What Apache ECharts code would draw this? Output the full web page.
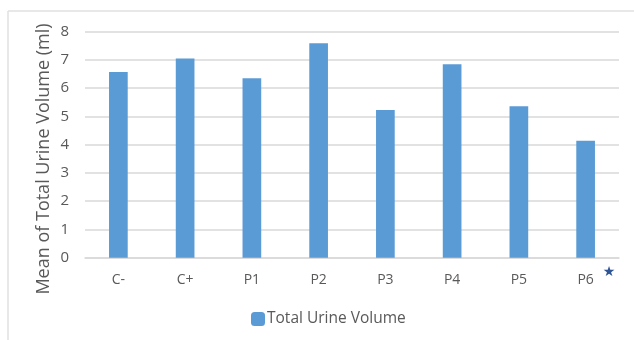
<!DOCTYPE html>
<html><head><meta charset="utf-8">
<script src="https://cdn.jsdelivr.net/npm/echarts@6/dist/echarts.min.js"></script>
<style>html,body{margin:0;padding:0;background:#fff}#c{width:634px;height:340px}</style>
</head><body><div id="c"></div>
<script>
const categories = ['C-','C+','P1','P2','P3','P4','P5','P6'];
const urineVolume = [6.57, 7.05, 6.35, 7.59, 5.23, 6.85, 5.36, 4.14];
const yTicks = [0,1,2,3,4,5,6,7,8];
const seriesName = 'Total Urine Volume';
const yAxisTitle = 'Mean of Total Urine Volume (ml)';
const txt = '#595959';
const font = '"Open Sans", sans-serif';
const chart = echarts.init(document.getElementById('c'));
chart.setOption({
  animation: false,
  backgroundColor: '#fff',
  grid: {left: 85, right: 15, top: 31.7, bottom: 82.3, containLabel: false},
  legend: {
    data: [seriesName], left: 251, top: 311, padding: 0, itemWidth: 14, itemHeight: 14, itemGap: 4,
    textStyle: {color: txt, fontSize: 15.5, fontFamily: font, padding: [0,0,0,-3]}
  },
  xAxis: {
    type: 'category', data: categories,
    axisLine: {lineStyle: {color: '#d9d9d9', width: 1.5}}, axisTick: {show: false},
    axisLabel: {color: txt, fontSize: 14, fontFamily: font, margin: 15}
  },
  yAxis: {
    type: 'value', min: 0, max: 8, interval: 1,
    axisLine: {show: false}, axisTick: {show: false},
    axisLabel: {color: txt, fontSize: 15, fontFamily: font, margin: 16,
      formatter: v => yTicks.includes(v) ? String(v) : ''},
    splitLine: {lineStyle: {color: '#d9d9d9', width: 1.5}}
  },
  series: [{
    name: seriesName, type: 'bar', data: urineVolume, barWidth: '28%',
    itemStyle: {color: '#5b9bd5'}
  }],
  graphic: [
    {type: 'line', shape: {x1: 8, y1: 11, x2: 634, y2: 11}, style: {stroke: '#e0e0e0', lineWidth: 1.5}, silent: true},
    {type: 'line', shape: {x1: 8, y1: 11, x2: 8, y2: 340}, style: {stroke: '#e0e0e0', lineWidth: 1.5}, silent: true},
    {type: 'text', x: 43.5, y: 159, rotation: Math.PI / 2,
      style: {text: yAxisTitle, fill: txt, fontSize: 18, fontFamily: font, align: 'center', verticalAlign: 'middle'}},
    {type: 'text', x: 609, y: 272, style: {text: '★', fill: '#2f5597', fontSize: 14, fontFamily: 'DejaVu Sans', align: 'center', verticalAlign: 'middle'}}
  ]
});
</script></body></html>
